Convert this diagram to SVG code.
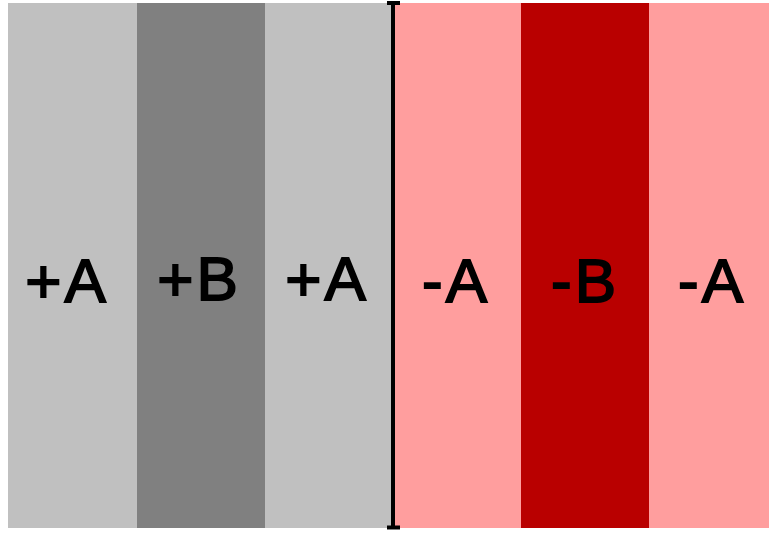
<svg xmlns="http://www.w3.org/2000/svg" width="769" height="533" viewBox="0 0 769 533">
<style>
.lab{font-family:"Liberation Sans",Arial,sans-serif;font-size:62px;text-anchor:middle;fill:#000;stroke:#000;stroke-width:1.8px;letter-spacing:3px}
</style>
<rect width="769" height="533" fill="#fff"/>
<g id="band1"><rect x="8" y="3" width="129" height="525" fill="#c0c0c0"/><text class="lab" x="67" y="302">+A</text></g>
<g id="band2"><rect x="137" y="3" width="128" height="525" fill="#808080"/><text class="lab" x="199" y="300">+B</text></g>
<g id="band3"><rect x="265" y="3" width="127" height="525" fill="#c0c0c0"/><text class="lab" x="327" y="300">+A</text></g>
<g id="band4"><rect x="392" y="3" width="129" height="525" fill="#ff9e9e"/><text class="lab" x="456" y="302">-A</text></g>
<g id="band5"><rect x="521" y="3" width="128" height="525" fill="#b90000"/><text class="lab" x="585" y="302">-B</text></g>
<g id="band6"><rect x="649" y="3" width="120" height="525" fill="#ff9e9e"/><text class="lab" x="712" y="302">-A</text></g>
<g id="connectors" stroke="#000" fill="none">
<line x1="393" y1="3" x2="393" y2="528" stroke-width="4"/>
<line x1="387" y1="3" x2="400" y2="3" stroke-width="4"/>
<line x1="387" y1="527.5" x2="400" y2="527.5" stroke-width="4"/>
</g>
</svg>
